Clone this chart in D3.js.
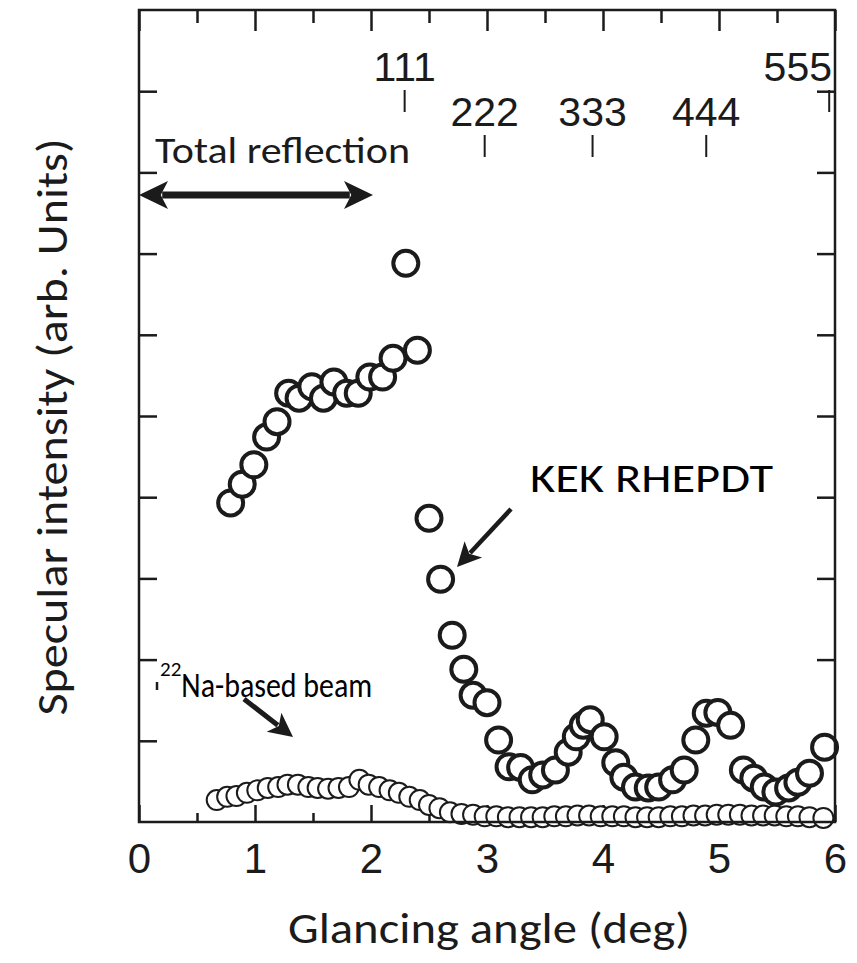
<!DOCTYPE html>
<html>
<head>
<meta charset="utf-8">
<script src="https://cdn.jsdelivr.net/npm/d3@7"></script>
<style>
  body { margin: 0; background: #fff; }
  svg { display: block; }
</style>
</head>
<body>
<div id="chart"></div>
<script>
var width = 857, height = 963;

// KEK RHEPDT (large circles): glancing angle (deg), intensity (tick units)
var kekX = [0.79, 0.89, 0.99, 1.10, 1.19, 1.29, 1.38, 1.49, 1.59, 1.68, 1.79, 1.89, 1.99, 2.10, 2.19, 2.30, 2.40, 2.50,
            2.60, 2.70, 2.80, 2.88, 3.00, 3.10, 3.19, 3.29, 3.39, 3.48, 3.59, 3.70, 3.77, 3.83, 3.89, 4.01, 4.11, 4.18,
            4.28, 4.39, 4.48, 4.60, 4.70, 4.80, 4.89, 4.99, 5.10, 5.21, 5.30, 5.39, 5.49, 5.60, 5.68, 5.78, 5.91];
var kekY = [3.93, 4.16, 4.40, 4.74, 4.93, 5.28, 5.22, 5.36, 5.22, 5.42, 5.28, 5.28, 5.48, 5.48, 5.71, 6.88, 5.81, 3.74,
            2.99, 2.30, 1.88, 1.56, 1.47, 1.01, 0.68, 0.67, 0.52, 0.58, 0.64, 0.86, 1.05, 1.19, 1.26, 1.05, 0.73, 0.55,
            0.43, 0.42, 0.43, 0.52, 0.64, 1.01, 1.34, 1.35, 1.19, 0.64, 0.54, 0.43, 0.37, 0.42, 0.49, 0.60, 0.92];

// 22Na-based beam (small circles)
var naX = [0.67, 0.76, 0.84, 0.93, 1.02, 1.11, 1.20, 1.28, 1.37, 1.46, 1.54, 1.63, 1.72, 1.81, 1.90, 1.98, 2.07, 2.16,
           2.24, 2.33, 2.42, 2.50, 2.59, 2.68, 2.78, 2.88, 2.98, 3.08, 3.18, 3.28, 3.38, 3.48, 3.58, 3.68, 3.78, 3.88,
           3.98, 4.08, 4.18, 4.28, 4.38, 4.48, 4.58, 4.68, 4.78, 4.88, 4.98, 5.08, 5.18, 5.28, 5.38, 5.48, 5.58, 5.68,
           5.78, 5.90];
var naY = [0.27, 0.31, 0.32, 0.36, 0.39, 0.42, 0.43, 0.46, 0.46, 0.43, 0.42, 0.41, 0.42, 0.43, 0.52, 0.46, 0.43, 0.39,
           0.36, 0.31, 0.27, 0.21, 0.17, 0.12, 0.10, 0.09, 0.07, 0.07, 0.06, 0.06, 0.06, 0.06, 0.07, 0.07, 0.08, 0.08,
           0.07, 0.07, 0.07, 0.06, 0.06, 0.06, 0.07, 0.07, 0.08, 0.08, 0.09, 0.09, 0.09, 0.08, 0.08, 0.08, 0.07, 0.07,
           0.06, 0.05];

var xMajor = [0, 1, 2, 3, 4, 5, 6];
var xMinor = [0.5, 1.5, 2.5, 3.5, 4.5, 5.5];
var yTicks = [1, 2, 3, 4, 5, 6, 7, 8, 9];

// Bragg peak markers
var peakLabels = ["111", "222", "333", "444", "555"];
var peakPos = [2.29, 2.98, 3.91, 4.89, 5.95];
var peakRow = [0, 1, 1, 1, 0];

var x = d3.scaleLinear().domain([0, 6]).range([139, 835]);
var y = d3.scaleLinear().domain([0, 10]).range([822, 10]);

var svg = d3.select("#chart").append("svg")
    .attr("width", width)
    .attr("height", height);

var ink = "#1b1b1b";
var numFont = "'Liberation Sans Narrow', 'Liberation Sans', Arial, sans-serif";
var txtFont = "Carlito, Lato, 'Open Sans', sans-serif";

// axes (ticks pointing inward)
var bottomAx = svg.append("g")
    .attr("transform", "translate(0," + y(0) + ")")
    .call(d3.axisBottom(x).tickValues(xMajor).tickSize(-17).tickPadding(21).tickFormat(d3.format("d")));
bottomAx.append("g")
    .call(d3.axisBottom(x).tickValues(xMinor).tickSize(-9).tickFormat(""));

var topAx = svg.append("g")
    .attr("transform", "translate(0," + y(10) + ")")
    .call(d3.axisTop(x).tickValues(xMajor).tickSize(-21).tickFormat(""));
topAx.append("g")
    .call(d3.axisTop(x).tickValues(xMinor).tickSize(-13).tickFormat(""));

svg.append("g")
    .attr("transform", "translate(" + x(0) + ",0)")
    .call(d3.axisLeft(y).tickValues(yTicks).tickSize(-18).tickFormat(""));
svg.append("g")
    .attr("transform", "translate(" + x(6) + ",0)")
    .call(d3.axisRight(y).tickValues(yTicks).tickSize(-18).tickFormat(""));

svg.selectAll(".domain").remove();
svg.selectAll(".tick line").attr("stroke", ink).attr("stroke-width", 2.5);
bottomAx.selectAll("text")
    .attr("fill", ink)
    .style("font-family", numFont)
    .style("font-size", "42px");

// small beam series first, large on top
svg.append("g").selectAll("circle")
    .data(naX)
  .enter().append("circle")
    .attr("cx", function(d) { return x(d); })
    .attr("cy", function(d, i) { return y(naY[i]); })
    .attr("r", 10)
    .attr("fill", "#fff")
    .attr("stroke", ink)
    .attr("stroke-width", 2);

svg.append("g").selectAll("circle")
    .data(kekX)
  .enter().append("circle")
    .attr("cx", function(d) { return x(d); })
    .attr("cy", function(d, i) { return y(kekY[i]); })
    .attr("r", 12.5)
    .attr("fill", "#fff")
    .attr("stroke", ink)
    .attr("stroke-width", 4);

// frame
svg.append("rect")
    .attr("x", x(0))
    .attr("y", y(10))
    .attr("width", x(6) - x(0))
    .attr("height", y(0) - y(10))
    .attr("fill", "none")
    .attr("stroke", ink)
    .attr("stroke-width", 2.5);

// peak markers
var peaks = svg.append("g");
peakLabels.forEach(function(lab, i) {
  var px = x(peakPos[i]);
  var base = peakRow[i] ? 126 : 81;
  peaks.append("text")
      .attr("x", i == 4 ? 832 : px)
      .attr("y", base)
      .attr("text-anchor", i == 4 ? "end" : "middle")
      .attr("fill", ink)
      .style("font-family", numFont)
      .style("font-size", "41px")
      .text(lab);
  peaks.append("line")
      .attr("x1", px).attr("x2", px)
      .attr("y1", base + 9).attr("y2", base + 31)
      .attr("stroke", ink)
      .attr("stroke-width", 2);
});

function arrowHead(tx, ty, angle, len, half) {
  var c = Math.cos(angle), s = Math.sin(angle);
  var bx = tx - c * len, by = ty - s * len;
  var nx = tx - c * len * 0.75, ny = ty - s * len * 0.75;
  return "M" + tx + "," + ty +
         "L" + (bx - s * half) + "," + (by + c * half) +
         "L" + nx + "," + ny +
         "L" + (bx + s * half) + "," + (by - c * half) + "Z";
}

function arrow(x1, y1, x2, y2, w, len, half, both) {
  var a = Math.atan2(y2 - y1, x2 - x1);
  var g = svg.append("g");
  g.append("line")
      .attr("x1", x1 + (both ? Math.cos(a) * len * 0.8 : 0))
      .attr("y1", y1 + (both ? Math.sin(a) * len * 0.8 : 0))
      .attr("x2", x2 - Math.cos(a) * len * 0.8)
      .attr("y2", y2 - Math.sin(a) * len * 0.8)
      .attr("stroke", ink)
      .attr("stroke-width", w);
  g.append("path").attr("d", arrowHead(x2, y2, a, len, half)).attr("fill", ink);
  if (both) g.append("path").attr("d", arrowHead(x1, y1, a + Math.PI, len, half)).attr("fill", ink);
}

// Total reflection
svg.append("text")
    .attr("x", 155).attr("y", 163)
    .attr("textLength", 255).attr("lengthAdjust", "spacingAndGlyphs")
    .attr("fill", ink)
    .style("font-family", txtFont)
    .style("font-size", "37px")
    .text("Total reflection");
arrow(x(0), 195, 373, 195, 7, 29, 14, true);

// KEK RHEPDT
svg.append("text")
    .attr("x", 530).attr("y", 492)
    .attr("textLength", 243).attr("lengthAdjust", "spacingAndGlyphs")
    .attr("fill", "#000")
    .style("font-family", txtFont)
    .style("font-size", "40px")
    .text("KEK RHEPDT");
arrow(511, 509, 457, 567, 4.5, 24, 12, false);

// 22Na-based beam
var na = svg.append("text")
    .attr("x", 160).attr("y", 697)
    .attr("fill", "#000")
    .style("font-family", txtFont)
    .style("font-size", "34px");
na.append("tspan").attr("dy", -21).style("font-size", "21px").text("22");
na.append("tspan").attr("dy", 21).attr("textLength", 191).attr("lengthAdjust", "spacingAndGlyphs").text("Na-based beam");
arrow(244, 699, 293, 737, 5, 24, 12, false);

// stray mark in the original scan
svg.append("line")
    .attr("x1", 157).attr("x2", 157)
    .attr("y1", 682).attr("y2", 690)
    .attr("stroke", ink).attr("stroke-width", 2.5);

// axis titles
svg.append("text")
    .attr("x", 489).attr("y", 943)
    .attr("text-anchor", "middle")
    .attr("textLength", 402).attr("lengthAdjust", "spacingAndGlyphs")
    .attr("fill", ink)
    .style("font-family", txtFont)
    .style("font-size", "44px")
    .text("Glancing angle (deg)");

svg.append("text")
    .attr("transform", "translate(67,427) rotate(-90)")
    .attr("text-anchor", "middle")
    .attr("textLength", 577).attr("lengthAdjust", "spacingAndGlyphs")
    .attr("fill", ink)
    .style("font-family", txtFont)
    .style("font-size", "44px")
    .text("Specular intensity (arb. Units)");
</script>
</body>
</html>
